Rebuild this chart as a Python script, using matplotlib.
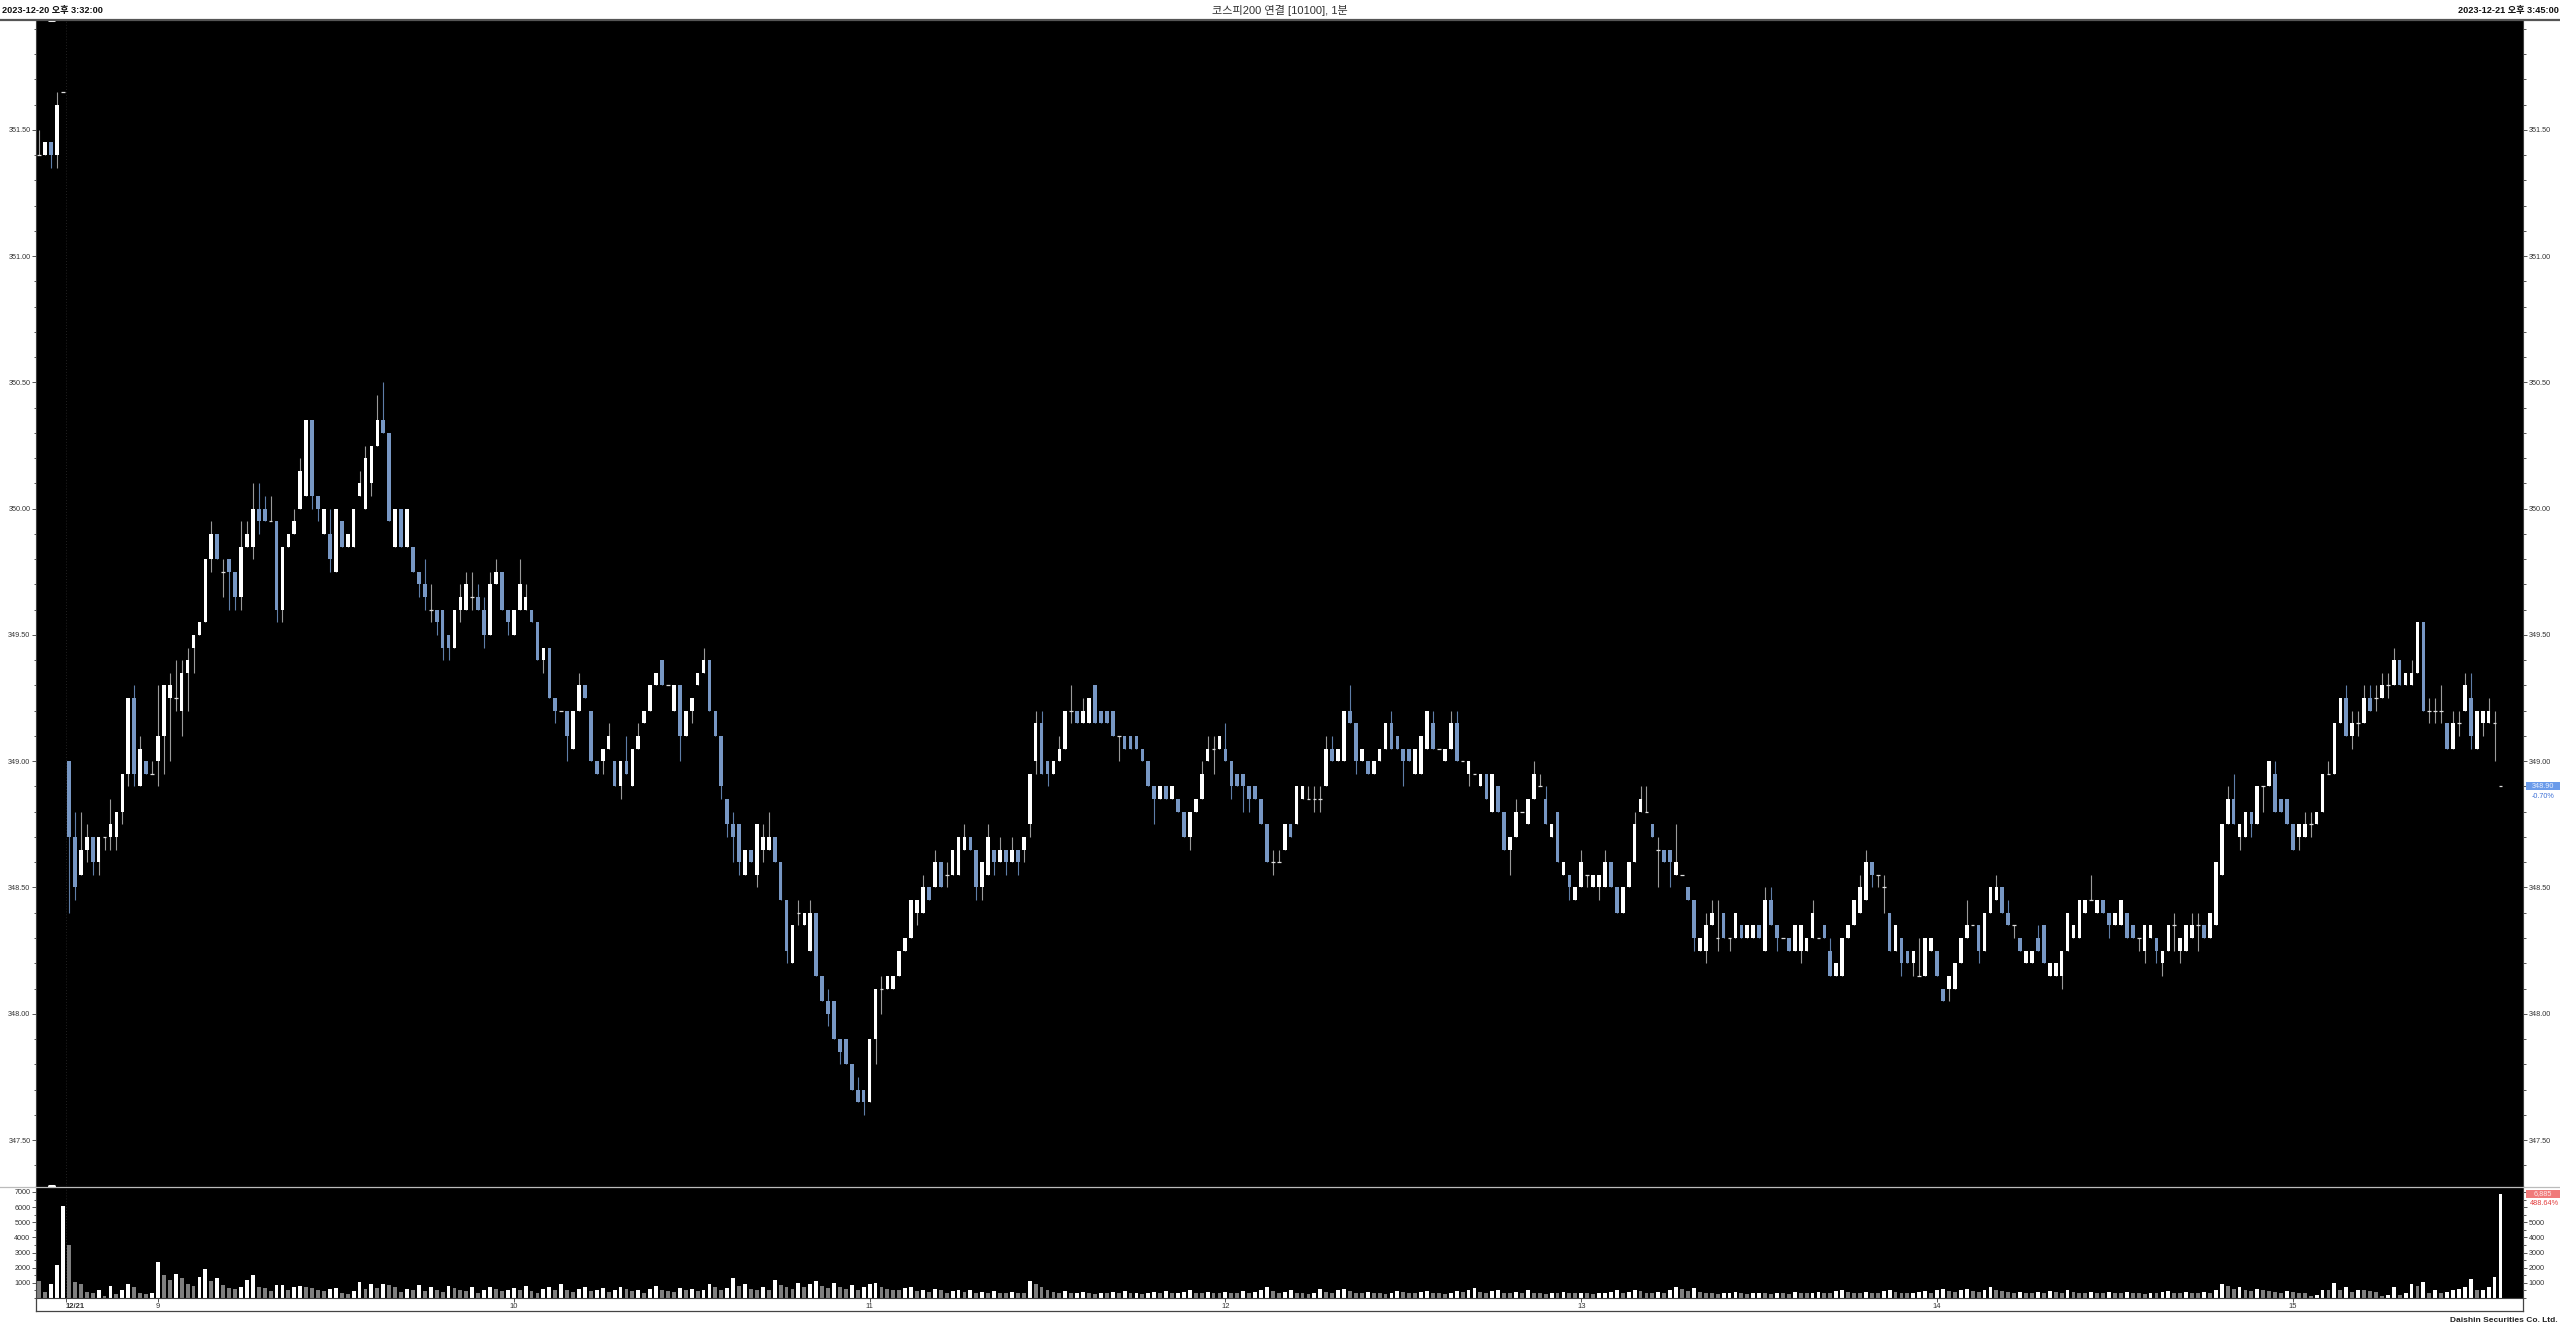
# KOSPI200 futures 1-minute candles, 2023-12-20 15:32 .. 2023-12-21 15:45

import numpy as np
import matplotlib.pyplot as plt
import matplotlib.transforms as mtransforms
from matplotlib.lines import Line2D
from matplotlib.patches import Rectangle
from matplotlib.ticker import MultipleLocator, FixedLocator

plt.rcParams['font.family'] = ['Liberation Sans', 'Noto Sans CJK KR', 'DejaVu Sans']

# bar index: -5..-1 = last bars of 12/20, 0 = 12/21 08:45, 410 = closing auction
bar_index = list(range(-5, 411))

opens = [
    351.40, 351.40, 351.45, 351.40, 351.65, 349.00, 348.70, 348.55, 348.65, 348.70,
    348.60, 348.70, 348.70, 348.70, 348.80, 348.95, 349.25, 348.90, 349.00, 348.95,
    349.00, 349.10, 349.25, 349.25, 349.20, 349.35, 349.45, 349.50, 349.55, 349.80,
    349.90, 349.75, 349.80, 349.75, 349.65, 349.85, 349.85, 350.00, 350.00, 349.95,
    349.95, 349.60, 349.85, 349.90, 350.00, 350.05, 350.35, 350.05, 349.90, 349.90,
    349.75, 349.95, 349.85, 349.85, 350.05, 350.00, 350.10, 350.25, 350.35, 350.30,
    349.85, 350.00, 349.85, 349.85, 349.75, 349.70, 349.60, 349.60, 349.60, 349.50,
    349.45, 349.60, 349.60, 349.65, 349.65, 349.60, 349.50, 349.70, 349.75, 349.60,
    349.50, 349.60, 349.60, 349.60, 349.55, 349.40, 349.45, 349.25, 349.20, 349.20,
    349.05, 349.20, 349.30, 349.20, 349.00, 349.00, 349.05, 349.00, 348.90, 349.00,
    348.90, 349.05, 349.15, 349.20, 349.30, 349.40, 349.30, 349.20, 349.30, 349.10,
    349.20, 349.30, 349.35, 349.40, 349.20, 349.10, 348.85, 348.75, 348.75, 348.55,
    348.65, 348.55, 348.65, 348.65, 348.70, 348.60, 348.45, 348.20, 348.40, 348.35,
    348.25, 348.40, 348.15, 348.05, 348.05, 347.90, 347.90, 347.80, 347.70, 347.70,
    347.65, 347.90, 348.10, 348.10, 348.10, 348.15, 348.25, 348.30, 348.40, 348.40,
    348.50, 348.50, 348.60, 348.55, 348.55, 348.55, 348.65, 348.70, 348.65, 348.50,
    348.55, 348.65, 348.60, 348.65, 348.60, 348.65, 348.65, 348.75, 349.00, 349.15,
    349.00, 348.95, 349.00, 349.05, 349.20, 349.20, 349.15, 349.15, 349.30, 349.20,
    349.20, 349.20, 349.10, 349.10, 349.10, 349.10, 349.05, 349.00, 348.90, 348.85,
    348.90, 348.85, 348.85, 348.80, 348.70, 348.80, 348.85, 349.00, 349.05, 349.05,
    349.05, 349.00, 348.95, 348.95, 348.90, 348.90, 348.85, 348.75, 348.60, 348.60,
    348.65, 348.75, 348.75, 348.85, 348.85, 348.85, 348.85, 348.90, 349.05, 349.00,
    349.00, 349.20, 349.15, 349.00, 349.00, 348.95, 349.00, 349.05, 349.15, 349.10,
    349.05, 349.05, 348.95, 348.95, 349.05, 349.15, 349.05, 349.00, 349.05, 349.15,
    349.00, 348.95, 348.95, 348.90, 348.95, 348.80, 348.90, 348.80, 348.65, 348.70,
    348.80, 348.75, 348.85, 348.90, 348.85, 348.70, 348.80, 348.55, 348.55, 348.45,
    348.50, 348.55, 348.50, 348.50, 348.50, 348.60, 348.50, 348.40, 348.50, 348.60,
    348.80, 348.80, 348.75, 348.65, 348.65, 348.65, 348.55, 348.55, 348.50, 348.45,
    348.25, 348.25, 348.35, 348.30, 348.40, 348.30, 348.30, 348.35, 348.30, 348.30,
    348.35, 348.25, 348.45, 348.35, 348.30, 348.30, 348.25, 348.25, 348.25, 348.30,
    348.30, 348.35, 348.25, 348.15, 348.15, 348.30, 348.35, 348.40, 348.45, 348.60,
    348.55, 348.50, 348.40, 348.25, 348.30, 348.25, 348.20, 348.15, 348.15, 348.25,
    348.25, 348.10, 348.10, 348.10, 348.20, 348.30, 348.35, 348.35, 348.25, 348.40,
    348.45, 348.50, 348.40, 348.35, 348.30, 348.20, 348.20, 348.30, 348.35, 348.15,
    348.15, 348.15, 348.25, 348.30, 348.30, 348.40, 348.45, 348.40, 348.45, 348.40,
    348.35, 348.35, 348.40, 348.35, 348.30, 348.25, 348.30, 348.30, 348.20, 348.25,
    348.35, 348.25, 348.25, 348.30, 348.35, 348.35, 348.30, 348.35, 348.55, 348.75,
    348.85, 348.70, 348.70, 348.80, 348.75, 348.90, 348.90, 348.95, 348.85, 348.85,
    348.75, 348.70, 348.70, 348.75, 348.75, 348.80, 348.95, 348.95, 349.15, 349.25,
    349.10, 349.15, 349.15, 349.25, 349.25, 349.25, 349.30, 349.30, 349.40, 349.30,
    349.30, 349.35, 349.55, 349.20, 349.20, 349.20, 349.15, 349.05, 349.15, 349.20,
    349.25, 349.05, 349.15, 349.15, 349.15, 348.90,
]

highs = [
    351.50, 351.45, 351.45, 351.65, 351.65, 349.00, 348.80, 348.80, 348.75, 348.70,
    348.70, 348.70, 348.85, 348.80, 348.95, 349.25, 349.30, 349.10, 349.00, 349.00,
    349.30, 349.30, 349.35, 349.40, 349.40, 349.45, 349.50, 349.55, 349.80, 349.95,
    349.90, 349.80, 349.80, 349.75, 349.95, 349.95, 350.10, 350.10, 350.05, 350.05,
    349.95, 349.85, 349.90, 350.00, 350.20, 350.35, 350.35, 350.05, 350.00, 350.00,
    350.00, 349.95, 349.90, 350.00, 350.15, 350.25, 350.25, 350.45, 350.50, 350.30,
    350.00, 350.00, 350.00, 349.85, 349.75, 349.80, 349.70, 349.60, 349.60, 349.50,
    349.60, 349.70, 349.75, 349.75, 349.70, 349.65, 349.75, 349.80, 349.75, 349.60,
    349.60, 349.80, 349.70, 349.60, 349.55, 349.45, 349.45, 349.25, 349.20, 349.20,
    349.20, 349.35, 349.30, 349.20, 349.00, 349.05, 349.15, 349.00, 349.00, 349.10,
    349.05, 349.15, 349.20, 349.30, 349.35, 349.40, 349.30, 349.30, 349.30, 349.20,
    349.25, 349.35, 349.45, 349.40, 349.20, 349.10, 348.85, 348.80, 348.75, 348.65,
    348.65, 348.75, 348.75, 348.80, 348.70, 348.60, 348.45, 348.35, 348.45, 348.40,
    348.45, 348.40, 348.15, 348.10, 348.05, 347.90, 347.90, 347.80, 347.75, 347.70,
    347.90, 348.10, 348.15, 348.15, 348.15, 348.25, 348.30, 348.45, 348.45, 348.55,
    348.50, 348.65, 348.60, 348.60, 348.65, 348.70, 348.75, 348.70, 348.65, 348.60,
    348.75, 348.65, 348.70, 348.65, 348.70, 348.65, 348.70, 348.95, 349.20, 349.20,
    349.00, 349.00, 349.10, 349.20, 349.30, 349.20, 349.25, 349.25, 349.30, 349.20,
    349.20, 349.20, 349.10, 349.10, 349.10, 349.10, 349.05, 349.00, 348.90, 348.90,
    348.90, 348.90, 348.85, 348.80, 348.80, 348.85, 349.00, 349.10, 349.10, 349.10,
    349.15, 349.00, 348.95, 348.95, 348.90, 348.90, 348.85, 348.75, 348.65, 348.65,
    348.75, 348.75, 348.90, 348.90, 348.90, 348.90, 348.90, 349.10, 349.10, 349.05,
    349.20, 349.30, 349.15, 349.05, 349.00, 349.00, 349.05, 349.15, 349.20, 349.10,
    349.05, 349.05, 349.05, 349.10, 349.20, 349.20, 349.05, 349.05, 349.20, 349.20,
    349.00, 349.00, 348.95, 348.95, 348.95, 348.95, 348.90, 348.80, 348.70, 348.85,
    348.80, 348.85, 349.00, 348.95, 348.90, 348.75, 348.80, 348.60, 348.55, 348.50,
    348.65, 348.55, 348.55, 348.55, 348.65, 348.60, 348.50, 348.50, 348.60, 348.80,
    348.90, 348.90, 348.75, 348.70, 348.65, 348.65, 348.75, 348.55, 348.50, 348.45,
    348.30, 348.40, 348.45, 348.45, 348.40, 348.30, 348.40, 348.35, 348.35, 348.35,
    348.35, 348.50, 348.50, 348.35, 348.30, 348.30, 348.35, 348.35, 348.30, 348.45,
    348.30, 348.35, 348.30, 348.20, 348.30, 348.35, 348.45, 348.55, 348.65, 348.60,
    348.55, 348.55, 348.40, 348.35, 348.30, 348.25, 348.25, 348.30, 348.30, 348.30,
    348.25, 348.10, 348.15, 348.20, 348.30, 348.45, 348.35, 348.35, 348.40, 348.50,
    348.55, 348.50, 348.45, 348.35, 348.30, 348.25, 348.25, 348.35, 348.35, 348.20,
    348.20, 348.25, 348.40, 348.35, 348.45, 348.45, 348.55, 348.45, 348.45, 348.40,
    348.40, 348.45, 348.40, 348.35, 348.30, 348.35, 348.35, 348.30, 348.25, 348.35,
    348.40, 348.30, 348.35, 348.40, 348.40, 348.35, 348.40, 348.60, 348.75, 348.90,
    348.95, 348.75, 348.80, 348.80, 348.90, 348.90, 349.00, 349.00, 348.85, 348.85,
    348.75, 348.75, 348.80, 348.80, 348.80, 348.95, 349.00, 349.15, 349.25, 349.30,
    349.20, 349.20, 349.30, 349.30, 349.30, 349.35, 349.35, 349.45, 349.40, 349.35,
    349.40, 349.55, 349.55, 349.25, 349.25, 349.30, 349.15, 349.20, 349.20, 349.35,
    349.35, 349.20, 349.20, 349.25, 349.20, 348.90,
]

lows = [
    351.40, 351.40, 351.35, 351.35, 351.65, 348.40, 348.45, 348.55, 348.60, 348.55,
    348.55, 348.65, 348.65, 348.65, 348.75, 348.90, 348.90, 348.90, 348.95, 348.95,
    348.90, 348.95, 349.00, 349.20, 349.10, 349.20, 349.35, 349.50, 349.55, 349.75,
    349.80, 349.65, 349.60, 349.60, 349.60, 349.85, 349.80, 349.90, 349.95, 349.95,
    349.55, 349.55, 349.85, 349.90, 350.00, 350.05, 350.00, 349.95, 349.90, 349.75,
    349.75, 349.85, 349.85, 349.85, 350.05, 350.00, 350.05, 350.25, 350.30, 349.95,
    349.85, 349.85, 349.85, 349.75, 349.65, 349.60, 349.55, 349.50, 349.40, 349.40,
    349.45, 349.55, 349.60, 349.60, 349.60, 349.45, 349.50, 349.70, 349.60, 349.50,
    349.50, 349.60, 349.60, 349.55, 349.40, 349.35, 349.25, 349.15, 349.20, 349.00,
    349.05, 349.20, 349.25, 349.00, 348.95, 348.95, 349.05, 348.90, 348.85, 348.95,
    348.90, 349.05, 349.15, 349.20, 349.30, 349.30, 349.30, 349.20, 349.00, 349.10,
    349.15, 349.30, 349.35, 349.20, 349.10, 348.85, 348.70, 348.60, 348.55, 348.55,
    348.60, 348.50, 348.60, 348.65, 348.60, 348.45, 348.20, 348.20, 348.35, 348.35,
    348.25, 348.15, 348.05, 347.95, 347.90, 347.80, 347.80, 347.70, 347.65, 347.60,
    347.65, 347.80, 348.00, 348.10, 348.10, 348.15, 348.25, 348.30, 348.35, 348.40,
    348.45, 348.50, 348.50, 348.50, 348.55, 348.55, 348.65, 348.65, 348.45, 348.45,
    348.55, 348.55, 348.60, 348.55, 348.60, 348.55, 348.60, 348.70, 348.95, 348.95,
    348.90, 348.95, 349.00, 349.05, 349.15, 349.15, 349.15, 349.15, 349.15, 349.15,
    349.15, 349.10, 349.00, 349.05, 349.05, 349.05, 349.00, 348.90, 348.75, 348.85,
    348.85, 348.85, 348.80, 348.70, 348.65, 348.80, 348.85, 349.00, 348.95, 349.05,
    349.00, 348.85, 348.90, 348.80, 348.80, 348.85, 348.75, 348.60, 348.55, 348.60,
    348.65, 348.70, 348.75, 348.85, 348.85, 348.80, 348.80, 348.90, 349.00, 349.00,
    349.00, 349.15, 348.95, 349.00, 348.95, 348.95, 349.00, 349.05, 349.05, 349.05,
    348.90, 349.00, 348.95, 348.95, 349.05, 349.05, 349.05, 349.00, 349.05, 349.00,
    349.00, 348.90, 348.95, 348.90, 348.85, 348.80, 348.80, 348.65, 348.55, 348.70,
    348.80, 348.75, 348.85, 348.90, 348.75, 348.70, 348.60, 348.55, 348.45, 348.45,
    348.50, 348.50, 348.50, 348.45, 348.50, 348.50, 348.40, 348.40, 348.50, 348.60,
    348.80, 348.80, 348.70, 348.50, 348.60, 348.50, 348.55, 348.55, 348.45, 348.25,
    348.25, 348.20, 348.35, 348.25, 348.30, 348.25, 348.30, 348.30, 348.30, 348.30,
    348.30, 348.25, 348.35, 348.25, 348.30, 348.25, 348.25, 348.20, 348.25, 348.30,
    348.30, 348.30, 348.15, 348.15, 348.15, 348.30, 348.35, 348.40, 348.45, 348.50,
    348.50, 348.40, 348.25, 348.25, 348.15, 348.20, 348.15, 348.15, 348.15, 348.25,
    348.15, 348.05, 348.05, 348.10, 348.20, 348.30, 348.35, 348.20, 348.25, 348.40,
    348.45, 348.40, 348.35, 348.30, 348.25, 348.20, 348.20, 348.25, 348.20, 348.15,
    348.15, 348.10, 348.25, 348.30, 348.30, 348.40, 348.45, 348.40, 348.40, 348.30,
    348.35, 348.35, 348.30, 348.30, 348.25, 348.20, 348.30, 348.20, 348.15, 348.25,
    348.25, 348.20, 348.25, 348.30, 348.25, 348.30, 348.30, 348.35, 348.55, 348.75,
    348.75, 348.65, 348.70, 348.70, 348.75, 348.80, 348.90, 348.80, 348.80, 348.75,
    348.65, 348.65, 348.70, 348.70, 348.75, 348.80, 348.95, 348.95, 349.15, 349.10,
    349.05, 349.10, 349.15, 349.20, 349.20, 349.25, 349.25, 349.30, 349.30, 349.30,
    349.30, 349.35, 349.20, 349.15, 349.15, 349.15, 349.05, 349.05, 349.10, 349.20,
    349.05, 349.05, 349.10, 349.15, 349.00, 348.90,
]

closes = [
    351.40, 351.45, 351.40, 351.60, 351.65, 348.70, 348.50, 348.65, 348.70, 348.60,
    348.70, 348.70, 348.75, 348.80, 348.95, 349.25, 348.95, 349.05, 348.95, 348.95,
    349.10, 349.30, 349.30, 349.25, 349.35, 349.40, 349.50, 349.55, 349.80, 349.90,
    349.80, 349.75, 349.75, 349.65, 349.85, 349.90, 350.00, 349.95, 349.95, 349.95,
    349.60, 349.85, 349.90, 349.95, 350.15, 350.35, 350.05, 350.00, 350.00, 349.80,
    350.00, 349.85, 349.90, 350.00, 350.10, 350.20, 350.25, 350.35, 350.30, 349.95,
    350.00, 349.85, 350.00, 349.75, 349.70, 349.65, 349.60, 349.55, 349.45, 349.45,
    349.60, 349.65, 349.70, 349.65, 349.60, 349.50, 349.70, 349.75, 349.60, 349.55,
    349.60, 349.70, 349.65, 349.55, 349.40, 349.45, 349.25, 349.20, 349.20, 349.10,
    349.20, 349.30, 349.25, 349.00, 348.95, 349.05, 349.10, 348.90, 349.00, 348.95,
    349.05, 349.10, 349.20, 349.30, 349.35, 349.30, 349.30, 349.30, 349.10, 349.20,
    349.25, 349.35, 349.40, 349.20, 349.10, 348.90, 348.75, 348.70, 348.60, 348.65,
    348.60, 348.75, 348.70, 348.70, 348.60, 348.45, 348.25, 348.35, 348.40, 348.40,
    348.40, 348.15, 348.05, 348.00, 347.90, 347.85, 347.80, 347.70, 347.65, 347.65,
    347.90, 348.10, 348.10, 348.15, 348.15, 348.25, 348.30, 348.45, 348.45, 348.50,
    348.45, 348.60, 348.50, 348.55, 348.65, 348.70, 348.70, 348.65, 348.50, 348.60,
    348.70, 348.60, 348.65, 348.60, 348.65, 348.60, 348.70, 348.95, 349.15, 348.95,
    348.95, 349.00, 349.05, 349.20, 349.20, 349.15, 349.20, 349.25, 349.15, 349.15,
    349.15, 349.10, 349.10, 349.05, 349.05, 349.05, 349.00, 348.90, 348.85, 348.90,
    348.85, 348.90, 348.80, 348.70, 348.80, 348.85, 348.95, 349.05, 349.05, 349.10,
    349.00, 348.90, 348.90, 348.90, 348.85, 348.85, 348.75, 348.60, 348.60, 348.60,
    348.75, 348.70, 348.90, 348.90, 348.85, 348.85, 348.85, 349.05, 349.00, 349.05,
    349.20, 349.15, 349.00, 349.05, 348.95, 349.00, 349.05, 349.15, 349.05, 349.05,
    349.00, 349.00, 349.05, 349.10, 349.20, 349.05, 349.05, 349.05, 349.15, 349.00,
    349.00, 349.00, 348.95, 348.95, 348.85, 348.95, 348.80, 348.65, 348.70, 348.80,
    348.80, 348.85, 348.95, 348.90, 348.75, 348.75, 348.60, 348.60, 348.50, 348.50,
    348.60, 348.55, 348.55, 348.55, 348.60, 348.50, 348.40, 348.50, 348.60, 348.75,
    348.85, 348.80, 348.70, 348.65, 348.60, 348.60, 348.60, 348.55, 348.45, 348.30,
    348.30, 348.35, 348.40, 348.30, 348.30, 348.30, 348.40, 348.30, 348.35, 348.35,
    348.30, 348.45, 348.35, 348.30, 348.30, 348.25, 348.35, 348.35, 348.30, 348.40,
    348.30, 348.30, 348.15, 348.20, 348.30, 348.35, 348.45, 348.50, 348.60, 348.55,
    348.55, 348.50, 348.25, 348.35, 348.20, 348.20, 348.25, 348.15, 348.30, 348.30,
    348.15, 348.05, 348.15, 348.20, 348.30, 348.35, 348.35, 348.25, 348.40, 348.50,
    348.50, 348.40, 348.35, 348.35, 348.25, 348.25, 348.25, 348.25, 348.20, 348.20,
    348.20, 348.25, 348.40, 348.35, 348.45, 348.45, 348.45, 348.45, 348.40, 348.35,
    348.40, 348.45, 348.30, 348.30, 348.30, 348.35, 348.35, 348.25, 348.25, 348.35,
    348.35, 348.30, 348.35, 348.35, 348.35, 348.30, 348.40, 348.60, 348.75, 348.85,
    348.75, 348.75, 348.80, 348.75, 348.90, 348.90, 349.00, 348.80, 348.80, 348.75,
    348.65, 348.75, 348.75, 348.75, 348.80, 348.95, 348.95, 349.15, 349.25, 349.10,
    349.15, 349.15, 349.25, 349.20, 349.25, 349.30, 349.30, 349.40, 349.30, 349.35,
    349.35, 349.55, 349.20, 349.20, 349.20, 349.20, 349.05, 349.15, 349.15, 349.30,
    349.10, 349.20, 349.20, 349.20, 349.15, 348.90,
]

volumes = [
    1150, 400, 950, 2200, 6050, 3500, 1050, 900, 400, 300,
    550, 100, 800, 250, 550, 900, 700, 350, 250, 300,
    2400, 1550, 1200, 1600, 1300, 950, 800, 1400, 1900, 1100,
    1300, 850, 650, 600, 750, 1200, 1500, 700, 650, 450,
    850, 860, 550, 750, 760, 750, 650, 500, 480, 600,
    650, 350, 250, 450, 1050, 600, 950, 650, 950, 850,
    700, 400, 600, 500, 850, 450, 700, 550, 400, 800,
    650, 500, 450, 700, 350, 500, 750, 600, 450, 550,
    650, 500, 800, 450, 350, 600, 750, 500, 900, 550,
    400, 600, 700, 450, 500, 650, 400, 550, 700, 600,
    450, 500, 350, 600, 800, 550, 450, 400, 650, 500,
    600, 450, 550, 900, 700, 500, 650, 1300, 800, 950,
    600, 500, 700, 550, 1200, 850, 700, 600, 1000, 750,
    900, 1100, 800, 650, 1000, 700, 600, 850, 500, 700,
    900, 1000, 700, 600, 550, 500, 650, 700, 450, 500,
    400, 600, 500, 350, 450, 550, 400, 500, 350, 400,
    300, 450, 350, 300, 400, 350, 300, 1100, 900, 700,
    500, 400, 350, 450, 300, 350, 400, 300, 250, 350,
    300, 400, 350, 450, 300, 350, 250, 300, 400, 350,
    450, 300, 350, 400, 500, 350, 300, 400, 350, 300,
    400, 350, 300, 450, 350, 400, 500, 700, 450, 350,
    400, 550, 350, 300, 250, 300, 600, 400, 350, 500,
    600, 450, 350, 300, 400, 350, 300, 250, 350, 450,
    400, 350, 300, 400, 450, 350, 300, 250, 350, 450,
    400, 550, 650, 400, 350, 450, 500, 350, 300, 400,
    350, 500, 350, 300, 250, 350, 300, 400, 350, 300,
    350, 300, 250, 300, 350, 400, 500, 350, 400, 550,
    450, 350, 300, 400, 350, 500, 700, 600, 450, 650,
    400, 350, 300, 250, 300, 350, 400, 300, 250, 300,
    350, 300, 250, 350, 300, 250, 400, 350, 300, 350,
    400, 350, 300, 450, 500, 400, 350, 300, 400, 350,
    300, 450, 500, 400, 350, 300, 350, 400, 450, 350,
    500, 600, 450, 400, 550, 600, 450, 400, 500, 700,
    550, 450, 400, 350, 400, 350, 300, 400, 350, 450,
    400, 350, 500, 400, 350, 300, 400, 350, 300, 400,
    350, 300, 400, 350, 300, 250, 350, 300, 400, 450,
    350, 300, 400, 350, 300, 400, 350, 500, 900, 800,
    600, 700, 500, 450, 600, 500, 450, 400, 350, 450,
    400, 350,
    300, 150, 200, 550, 500, 1000, 500, 750, 400, 550,
    500, 450, 400, 100, 200, 750, 200, 300, 950, 800,
    1050, 350, 550, 350, 400, 550, 600, 700, 1250, 550,
    560, 750, 1400, 6885,
]

price_ticks = [347.5, 348.0, 348.5, 349.0, 349.5, 350.0, 350.5, 351.0, 351.5]
volume_ticks = [1000, 2000, 3000, 4000, 5000, 6000, 7000]
right_volume_labels = [1000, 2000, 3000, 4000, 5000]
hour_positions = [-0.5, 15, 75, 135, 195, 255, 315, 375]
hour_labels = ['12/21', '9', '10', '11', '12', '13', '14', '15']

left_title = '2023-12-20 오후 3:32:00'
center_title = '코스피200 연결 [10100], 1분'
right_title = '2023-12-21 오후 3:45:00'

BLUE = '#7797C4'
BLUE_WICK = '#5E7EA8'
WHITE_WICK = '#9A9A9A'
GRAY_VOL = '#7F7F7F'
LABEL = '#333333'

x = np.array(bar_index, dtype=float)
o = np.array(opens)
h = np.array(highs)
l = np.array(lows)
c = np.array(closes)
v = np.array(volumes, dtype=float)
for arr in (o, h, l, c, v):
    assert len(arr) == len(x), len(arr)

W, H = 2560, 1328
fig = plt.figure(figsize=(W / 100, H / 100), dpi=100)
fig.patch.set_facecolor('white')

PL, PR = 36, 2523
ax = fig.add_axes([PL / W, 1 - 1186 / H, (PR - PL) / W, (1186 - 20) / H])
axv = fig.add_axes([PL / W, 1 - 1298 / H, (PR - PL) / W, (1298 - 1186) / H])

xlim = (-5.56, 413.8)
for a in (ax, axv):
    a.set_facecolor('black')
    a.set_xlim(*xlim)
    for s in a.spines.values():
        s.set_color('#404040')
        s.set_linewidth(0.8)
    a.spines['top'].set_visible(False)

ax.set_ylim(347.318, 351.935)
axv.set_ylim(0, 7393)

# candles
up = c > o + 1e-9
dn = c < o - 1e-9
eq = ~(up | dn)
wick_col = np.where(dn, BLUE_WICK, WHITE_WICK)
ax.vlines(x, np.minimum(l, np.minimum(o, c)), np.maximum(h, np.maximum(o, c)),
          colors=wick_col, linewidth=0.8, zorder=2)
bw = 0.62
ax.bar(x[up], (c - o)[up], bottom=o[up], width=bw, color='white',
       edgecolor='none', linewidth=0, zorder=3)
ax.bar(x[dn], (o - c)[dn], bottom=c[dn], width=bw, color=BLUE,
       edgecolor='none', linewidth=0, zorder=3)
ax.hlines(c[eq], x[eq] - bw / 2, x[eq] + bw / 2, colors='#DDDDDD',
          linewidth=0.9, zorder=3)

# volume, white when volume grew vs previous bar
vol_up = np.concatenate([[False], v[1:] > v[:-1]])
axv.bar(x, v, width=0.65, color=np.where(vol_up, 'white', GRAY_VOL),
        edgecolor='none', linewidth=0)

# day separator (faint dotted)
for a in (ax, axv):
    a.axvline(-0.5, color='#2C2C2C', linewidth=0.6, linestyle=(0, (1, 2.5)),
              zorder=1)

# y axes
ax.yaxis.set_major_locator(FixedLocator(price_ticks))
ax.yaxis.set_minor_locator(MultipleLocator(0.1))
ax.yaxis.set_major_formatter(plt.FuncFormatter(lambda y, p: f'{y:.2f}'))
ax.tick_params(axis='y', which='both', left=True, right=True,
               labelleft=True, labelright=True, direction='out',
               color='#555555', width=0.7)
ax.tick_params(axis='y', which='major', length=3, labelsize=5.2,
               labelcolor=LABEL, pad=1)
ax.tick_params(axis='y', which='minor', length=1.8)
ax.tick_params(axis='x', which='both', bottom=False, labelbottom=False)

axv.yaxis.set_major_locator(FixedLocator(volume_ticks))
axv.yaxis.set_minor_locator(MultipleLocator(500))
axv.yaxis.set_major_formatter(plt.FuncFormatter(lambda y, p: f'{y:.0f}'))
axv.tick_params(axis='y', which='both', left=True, right=False,
                labelleft=True, labelright=False, direction='out',
                color='#555555', width=0.7)
axv.tick_params(axis='y', which='major', length=3, labelsize=5.2,
                labelcolor=LABEL, pad=1)
axv.tick_params(axis='y', which='minor', length=1.8)

# right-hand volume scale: upper labels are hidden under the last-volume box
axr = axv.twinx()
axr.set_ylim(axv.get_ylim())
axr.yaxis.set_major_locator(FixedLocator(volume_ticks))
axr.yaxis.set_minor_locator(MultipleLocator(500))
axr.yaxis.set_major_formatter(plt.FuncFormatter(
    lambda y, p: f'{y:.0f}' if y in right_volume_labels else ''))
axr.tick_params(axis='y', which='both', direction='out', color='#555555', width=0.7)
axr.tick_params(axis='y', which='major', length=3, labelsize=5.2,
                labelcolor=LABEL, pad=1)
axr.tick_params(axis='y', which='minor', length=1.8)
for s in axr.spines.values():
    s.set_visible(False)

# x axis (hours) under the volume panel
axv.set_xticks(hour_positions)
axv.set_xticklabels(hour_labels)
axv.tick_params(axis='x', direction='out', length=3, width=0.7,
                color='#555555', labelsize=5.5, labelcolor=LABEL, pad=0.5)
first = axv.get_xticklabels()[0]
first.set_fontweight('bold')
first.set_horizontalalignment('left')

# frame lines
def hline_fig(ypx, x0, x1, color, lw):
    fig.add_artist(Line2D([x0 / W, x1 / W], [1 - ypx / H, 1 - ypx / H],
                          transform=fig.transFigure, color=color, linewidth=lw))

def vline_fig(xpx, y0, y1, color, lw):
    fig.add_artist(Line2D([xpx / W, xpx / W], [1 - y0 / H, 1 - y1 / H],
                          transform=fig.transFigure, color=color, linewidth=lw))

hline_fig(20, 0, W, '#555555', 1.6)
hline_fig(1186.5, 0, W, '#BBBBBB', 0.9)
hline_fig(1311, PL, PR, '#444444', 0.9)
vline_fig(PL, 1298, 1311, '#444444', 0.9)
vline_fig(PR, 1298, 1311, '#444444', 0.9)

# small scroll markers at the top of each pane
for a in (ax, axv):
    a.plot([-3.45, -2.55], [1.0, 1.0], transform=mtransforms.blended_transform_factory(
        a.transData, a.transAxes), color='white', linewidth=2.2,
        solid_capstyle='round', clip_on=False, zorder=5)

# header / footer
fig.text(2 / W, 1 - 10 / H, left_title, ha='left', va='center', fontsize=6.6,
         fontweight='bold', color='#111111')
fig.text(1280 / W, 1 - 10 / H, center_title, ha='center', va='center',
         fontsize=8.0, color='#333333')
fig.text(2559 / W, 1 - 10 / H, right_title, ha='right', va='center',
         fontsize=6.6, fontweight='bold', color='#111111')
fig.text(2558 / W, 1 - 1320 / H, 'Daishin Securities Co. Ltd.', ha='right',
         va='center', fontsize=6.0, fontweight='bold', color='#222222')

# last price / last volume markers on the right axis
tr_price = mtransforms.blended_transform_factory(fig.transFigure, ax.transData)
last_close = closes[-1]
ph = 8 / (1166 / (351.935 - 347.318))
ax.add_patch(Rectangle((2526 / W, last_close - ph / 2), 34 / W, ph,
                       transform=tr_price, facecolor='#6A9BEA',
                       edgecolor='none', clip_on=False, zorder=6))
ax.text(2543 / W, last_close, f'{last_close:.2f}', transform=tr_price,
        ha='center', va='center', fontsize=5.2, color='#E8F0FF', zorder=7)
ax.text(2543 / W, last_close - 1.25 * ph, '-0.70%', transform=tr_price,
        ha='center', va='center', fontsize=5.2, color='#3B6FD6', zorder=7)

tr_vol = mtransforms.blended_transform_factory(fig.transFigure, axr.transData)
last_vol = volumes[-1]
vh = 8 / (112 / 7393)
axr.add_patch(Rectangle((2526 / W, last_vol - vh / 2), 34 / W, vh,
                        transform=tr_vol, facecolor='#F07A7A',
                        edgecolor='none', clip_on=False, zorder=6))
axr.text(2543 / W, last_vol, f'{last_vol:,}', transform=tr_vol,
         ha='center', va='center', fontsize=5.2, color='#FFE8E8', zorder=7)
axr.text(2544 / W, last_vol - 1.2 * vh, '488.64%', transform=tr_vol,
         ha='center', va='center', fontsize=5.2, color='#E23B3B', zorder=7)

fig.savefig('out.png', dpi=100, facecolor='white')
